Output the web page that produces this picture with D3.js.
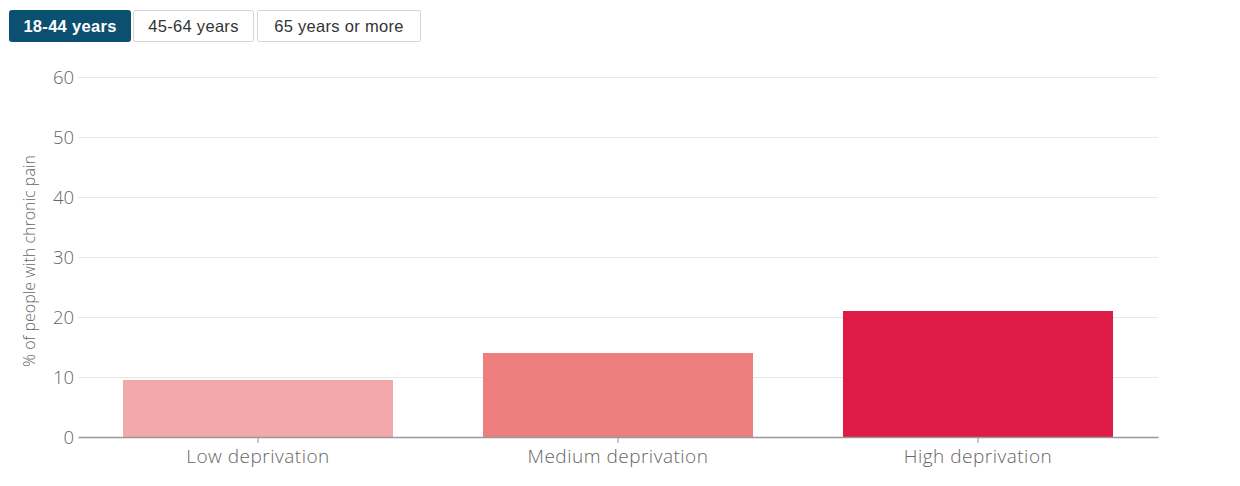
<!DOCTYPE html>
<html><head><meta charset="utf-8">
<script src="https://cdn.jsdelivr.net/npm/d3@7"></script>
<style>
body{margin:0;background:#fff;font-family:"Liberation Sans",Arial,sans-serif;}
.ax{font-family:"Open Sans",sans-serif;font-weight:300;}
</style></head>
<body>
<svg id="chart" width="1240" height="486"></svg>
<script>
const categories = ["Low deprivation", "Medium deprivation", "High deprivation"];
const values = [9.5, 14, 21];
const barColors = ["#f3a9a9", "#ee7e7e", "#de1a45"];
const yTicks = [0, 10, 20, 30, 40, 50, 60];
const buttons = ["18-44 years", "45-64 years", "65 years or more"];
const yTitle = "% of people with chronic pain";

const svg = d3.select("#chart");
const margin = {left: 78, right: 82, top: 77, bottom: 49};
const W = 1240, H = 486;

// buttons
const btnX = [9, 133, 257], btnW = [121, 120, 163];
const bg = svg.append("g");
buttons.forEach((b, i) => {
  const g = bg.append("g").attr("transform", `translate(${btnX[i]},10)`);
  g.append("rect").attr("x", 0.5).attr("y", 0.5).attr("width", btnW[i]).attr("height", 31).attr("rx", 2)
    .attr("fill", i === 0 ? "#0b4f71" : "#fff").attr("stroke", i === 0 ? "#0b4f71" : "#d4d4d4");
  g.append("text").attr("x", btnW[i] / 2 + 0.5).attr("y", 22).attr("text-anchor", "middle")
    .attr("font-size", 16.5).attr("letter-spacing", 0.3).attr("font-weight", i === 0 ? "bold" : "normal")
    .attr("fill", i === 0 ? "#fff" : "#333").text(b);
});

const x = d3.scaleBand().domain(categories).range([margin.left, W - margin.right])
  .paddingInner(0.25).paddingOuter(0.125);
const y = d3.scaleLinear().domain([0, 60]).range([437, 77]);

// grid
svg.append("g").selectAll("line").data(yTicks.filter(d => d > 0)).join("line")
  .attr("x1", margin.left).attr("x2", W - margin.right)
  .attr("y1", d => y(d) + 0.5).attr("y2", d => y(d) + 0.5)
  .attr("stroke", "#e8e8e8").attr("stroke-width", 1);

// y labels
svg.append("g").selectAll("text").data(yTicks).join("text").attr("class", "ax")
  .attr("x", 74).attr("y", d => y(d) + 6.5).attr("text-anchor", "end")
  .attr("font-size", 18.5).attr("fill", "#666").text(d => d);

// y title
svg.append("text").attr("class", "ax").attr("transform", `translate(35,${y(30) + 4}) rotate(-90)`)
  .attr("text-anchor", "middle").attr("font-size", 16).attr("fill", "#666").text(yTitle);

// bars
svg.append("g").selectAll("rect").data(values).join("rect")
  .attr("x", (d, i) => x(categories[i])).attr("width", x.bandwidth())
  .attr("y", d => y(d)).attr("height", d => y(0) - y(d))
  .attr("fill", (d, i) => barColors[i]);

// x axis
const xa = svg.append("g").attr("transform", `translate(0,${y(0)})`)
  .call(d3.axisBottom(x).tickSize(6).tickSizeOuter(0));
xa.select(".domain").attr("stroke", "#999").attr("stroke-width", 1.5);
xa.selectAll(".tick line").attr("stroke", "#999");
xa.selectAll(".tick text").attr("class", "ax").attr("font-size", 19).attr("letter-spacing", 0.5)
  .attr("fill", "#666").attr("font-family", null).attr("dy", "0.9em");
</script>
</body></html>
